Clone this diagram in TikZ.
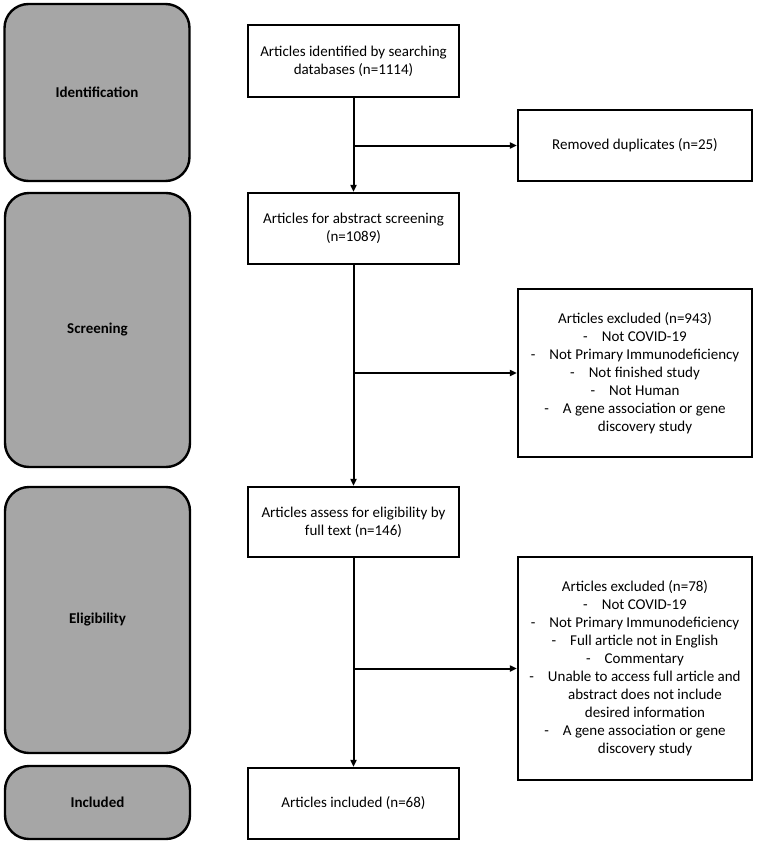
\documentclass[tikz,border=0pt]{standalone}
\usepackage{fontspec}
\setmainfont{Carlito}
\usetikzlibrary{arrows.meta}
\begin{document}
\begin{tikzpicture}[x=1pt,y=-1pt,
  phase/.style={draw=black, line width=2.4pt, fill=phasegray, rounded corners=24pt,
    minimum width=185pt, inner sep=0pt, font=\fontsize{15}{18}\selectfont\bfseries},
  stepbox/.style={draw=black, line width=2.2pt, fill=white, inner sep=0pt,
    align=center, font=\fontsize{15}{18}\selectfont},
  conn/.style={line width=2pt, -{Triangle[length=7pt,width=6pt]}},
  link/.style={line width=2pt}]
\definecolor{phasegray}{HTML}{A6A6A6}
\useasboundingbox (0,0) rectangle (758,843);
% phase boxes
\node[phase, minimum height=177pt] (idf) at (97,92.5) {Identification};
\node[phase, minimum height=274pt] (scr) at (97.5,330) {Screening};
\node[phase, minimum height=266pt] (elg) at (97.5,620) {Eligibility};
\node[phase, minimum height=73pt] (inc) at (97.5,802.5) {Included};
% main column
\node[stepbox, minimum width=211pt, minimum height=72pt] (b1) at (353.5,61)
  {Articles identified by searching\\databases (n=1114)};
\node[stepbox, minimum width=211pt, minimum height=71pt] (b2) at (353.5,228.5)
  {Articles for abstract screening\\(n=1089)};
\node[stepbox, minimum width=211pt, minimum height=70pt] (b3) at (353.5,522)
  {Articles assess for eligibility by\\full text (n=146)};
\node[stepbox, minimum width=211pt, minimum height=71pt] (b4) at (353.5,803.5)
  {Articles included (n=68)};
% side column
\node[stepbox, minimum width=234pt, minimum height=71pt] (dup) at (635,145.5)
  {Removed duplicates (n=25)};
\node[stepbox, minimum width=234pt, minimum height=168pt] (ex1) at (635,373)
  {Articles excluded (n=943)\\
   -\hspace{14pt}Not COVID-19\\
   -\hspace{14pt}Not Primary Immunodeficiency\\
   -\hspace{14pt}Not finished study\\
   -\hspace{14pt}Not Human\\
   -\hspace{14pt}A gene association or gene\\
   \hspace{20pt}discovery study};
\node[stepbox, minimum width=234pt, minimum height=223pt] (ex2) at (635,668.5)
  {Articles excluded (n=78)\\
   -\hspace{14pt}Not COVID-19\\
   -\hspace{14pt}Not Primary Immunodeficiency\\
   -\hspace{14pt}Full article not in English\\
   -\hspace{14pt}Commentary\\
   -\hspace{14pt}Unable to access full article and\\
   \hspace{20pt}abstract does not include\\
   \hspace{20pt}desired information\\
   -\hspace{14pt}A gene association or gene\\
   \hspace{20pt}discovery study};
% connectors
\coordinate (j1) at (b1.south |- dup.west);
\coordinate (j2) at (b2.south |- ex1.west);
\coordinate (j3) at (b3.south |- ex2.west);
\draw[conn] (b1.south) -- (b2.north);
\draw[conn] (j1) -- (dup.west);
\draw[conn] (b2.south) -- (b3.north);
\draw[conn] (j2) -- (ex1.west);
\draw[conn] (b3.south) -- (b4.north);
\draw[conn] (j3) -- (ex2.west);
\end{tikzpicture}
\end{document}
